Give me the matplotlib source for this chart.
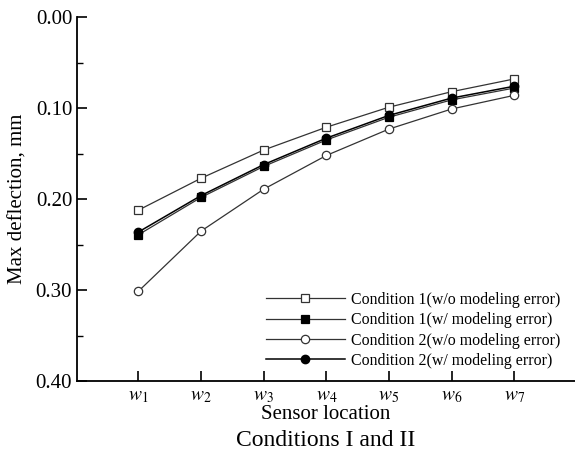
import matplotlib
matplotlib.use("Agg")
import matplotlib.pyplot as plt
from matplotlib.ticker import MultipleLocator

plt.rcParams["font.family"] = ["Liberation Serif", "DejaVu Serif"]
plt.rcParams["mathtext.fontset"] = "stix"

# ── DATA ──────────────────────────────────────────────────────
sensors = [1, 2, 3, 4, 5, 6, 7]
sensor_labels = [r"$w_{%d}$" % i for i in sensors]

c1_wo_err = [0.212, 0.177, 0.146, 0.121, 0.099, 0.082, 0.068]
c1_w_err = [0.239, 0.198, 0.164, 0.135, 0.110, 0.091, 0.078]
c2_wo_err = [0.301, 0.235, 0.189, 0.152, 0.123, 0.101, 0.086]
c2_w_err = [0.236, 0.196, 0.162, 0.133, 0.108, 0.089, 0.076]

# ── PLOT ──────────────────────────────────────────────────────
fig = plt.figure(figsize=(5.75, 4.59), dpi=100)
ax = fig.add_axes([0.134, 0.169, 0.866, 0.794])

line_col = "#333333"
kw = dict(color=line_col, linewidth=0.9, markersize=6, markeredgewidth=0.9)

ax.plot(sensors, c1_wo_err, marker="s", markerfacecolor="white",
        markeredgecolor=line_col, label="Condition 1(w/o modeling error)", **kw)
ax.plot(sensors, c1_w_err, marker="s", markerfacecolor="black",
        markeredgecolor="black", label="Condition 1(w/ modeling error)", **kw)
ax.plot(sensors, c2_wo_err, marker="o", markerfacecolor="white",
        markeredgecolor=line_col, label="Condition 2(w/o modeling error)", **kw)
ax.plot(sensors, c2_w_err, marker="o", markerfacecolor="black",
        markeredgecolor="black", label="Condition 2(w/ modeling error)",
        color="black", linewidth=1.1, markersize=6)

ax.set_xlim(0.02, 7.97)
ax.set_ylim(0.40, 0.00)
ax.yaxis.set_major_locator(MultipleLocator(0.10))
ax.yaxis.set_minor_locator(MultipleLocator(0.05))
ax.yaxis.set_major_formatter(plt.FuncFormatter(lambda v, _: f"{v:.2f}"))
ax.set_xticks(sensors)
ax.set_xticklabels(sensor_labels)

for s in ["top", "right"]:
    ax.spines[s].set_visible(False)
for s in ["left", "bottom"]:
    ax.spines[s].set_linewidth(1.3)

ax.tick_params(axis="both", which="major", direction="in", length=7,
               width=1.2, labelsize=15)
ax.tick_params(axis="x", labelsize=14, pad=5)
ax.tick_params(axis="y", which="minor", direction="in", length=4, width=1.0)

ax.set_ylabel("Max deflection, mm", fontsize=15, labelpad=6)
ax.set_xlabel("Sensor location", fontsize=15, labelpad=0)
fig.text(0.567, 0.041, "Conditions I and II", ha="center", va="center",
         fontsize=17)

leg = ax.legend(loc="lower right", bbox_to_anchor=(1.0, -0.005), frameon=False,
                fontsize=11.4, handlelength=5.0, handletextpad=0.4,
                labelspacing=0.28)

fig.savefig("out.png", dpi=100)
